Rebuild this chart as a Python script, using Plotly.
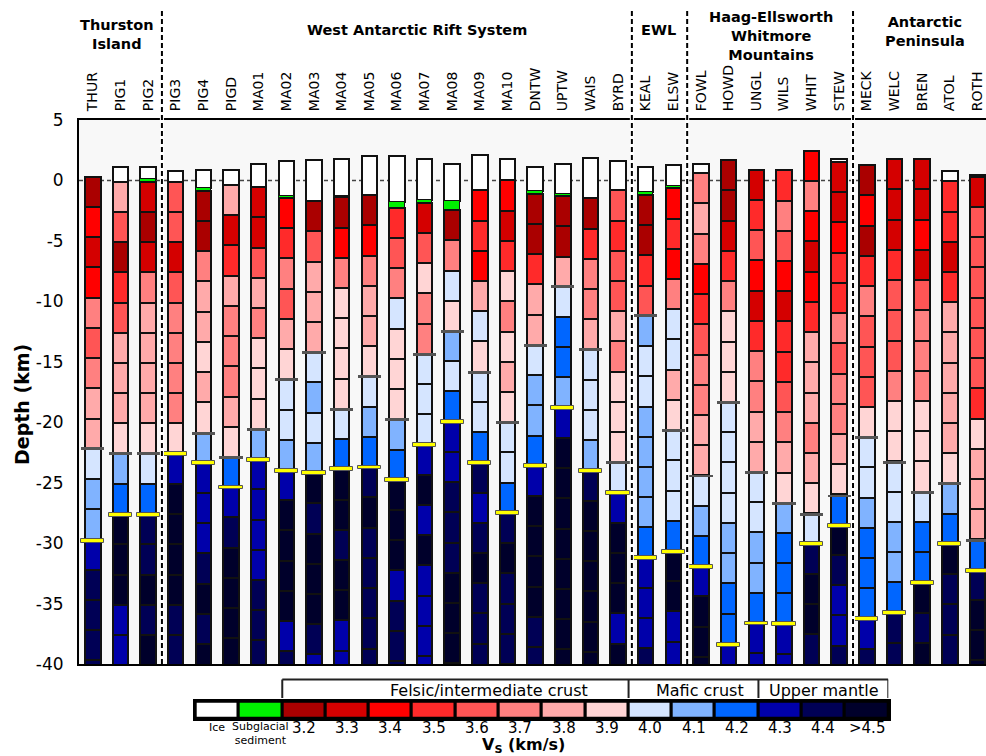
import plotly.graph_objects as go

FONT = "DejaVu Sans"

# ---- stations (left to right) -------------------------------------------
stations = ["THUR", "PIG1", "PIG2", "PIG3", "PIG4", "PIGD", "MA01", "MA02", "MA03",
            "MA04", "MA05", "MA06", "MA07", "MA08", "MA09", "MA10", "DNTW", "UPTW",
            "WAIS", "BYRD", "KEAL", "ELSW", "FOWL", "HOWD", "UNGL", "WILS", "WHIT",
            "STEW", "MECK", "WELC", "BREN", "ATOL", "ROTH"]

# surface elevation, base of ice and top of the crustal column (km)
surface_km = [0.3, 1.13, 1.13, 0.77, 0.88, 0.88, 1.4, 1.57, 1.71, 1.77, 1.99, 2.02, 1.74,
              1.4, 2.13, 1.8, 1.13, 1.4, 1.85, 1.6, 1.1, 1.3, 1.38, 1.67, 0.88, 0.84,
              2.45, 1.74, 1.26, 1.76, 1.76, 0.8, 0.41]
ice_base_km = [0.3, -0.1, 0.1, -0.1, -0.6, -0.38, -0.55, -1.3, -1.71, -1.25, -1.22, -1.77,
               -1.6, -1.66, -0.82, 0.0, -0.9, -1.1, -1.49, -0.82, -0.95, -0.5, 0.6, 1.67,
               0.88, 0.84, 2.45, 1.53, 1.26, 1.76, 1.76, -0.07, 0.3]
bed_km = [0.3, -0.1, -0.1, -0.1, -0.85, -0.38, -0.55, -1.45, -1.71, -1.4, -1.22, -2.26,
          -1.85, -2.45, -0.82, 0.0, -1.1, -1.3, -1.49, -0.82, -1.2, -0.65, 0.6, 1.67,
          0.88, 0.84, 2.45, 1.53, 1.26, 1.76, 1.76, -0.07, 0.3]

# felsic/mafic transition and Moho depth (km)
mid_crust_km = [-22.2, -22.6, -22.6, None, -20.9, -22.9, -20.6, -16.5, -14.25, -18.95,
                -16.25, -19.8, -14.4, -12.5, -15.85, -20.05, -13.65, -8.8, -14.0, -23.35,
                -11.2, -20.7, -24.45, -18.35, -24.15, -26.7, -27.6, -26.1, -21.3, -23.3,
                -25.85, -25.1, -29.8]
moho_km = [-29.8, -27.65, -27.65, -22.6, -23.4, -25.4, -23.1, -24.0, -24.2, -23.9, -23.75,
           -24.75, -21.9, -19.95, -23.35, -27.5, -23.65, -18.8, -24.0, -25.85, -31.2,
           -30.7, -31.95, -38.4, -36.65, -36.7, -30.1, -28.55, -36.3, -35.8, -33.3,
           -30.1, -32.3]

# shear-wave velocity of each 2.5 km layer below the bed (km/s, 4.5 = >4.5)
LAYER_KM = 2.5
vs_layers = [
    [3.2, 3.4, 3.3, 3.4, 3.7, 3.6, 3.7, 3.8, 3.8, 4.0, 4.1, 4.1, 4.3, 4.4, 4.4, 4.4, 4.4],  # THUR
    [3.8, 3.6, 3.2, 3.5, 3.6, 3.8, 3.8, 3.8, 3.9, 4.1, 4.2, 4.5, 4.5, 4.5, 4.3, 4.3],       # PIG1
    [3.3, 3.2, 3.3, 3.7, 3.8, 3.8, 3.8, 3.8, 3.9, 4.0, 4.2, 4.4, 4.4, 4.5, 4.4, 4.5],       # PIG2
    [3.6, 3.6, 3.3, 3.6, 3.7, 3.7, 3.7, 3.7, 3.9, 4.3, 4.5, 4.5, 4.5, 4.5, 4.4, 4.4],       # PIG3
    [3.2, 3.2, 3.7, 3.8, 3.8, 3.9, 3.8, 3.9, 4.1, 4.3, 4.3, 4.3, 4.4, 4.5, 4.4, 4.5],       # PIG4
    [3.8, 3.3, 3.5, 3.8, 3.7, 3.7, 3.7, 3.8, 3.9, 4.2, 4.3, 4.4, 4.5, 4.5, 4.5, 4.5],       # PIGD
    [3.3, 3.3, 3.6, 3.8, 3.7, 3.9, 3.9, 3.9, 4.1, 4.3, 4.3, 4.3, 4.3, 4.4, 4.4, 4.4],       # MA01
    [3.4, 3.5, 3.7, 3.6, 3.8, 3.9, 4.0, 4.0, 4.1, 4.3, 4.5, 4.5, 4.5, 4.5, 4.3, 4.4],       # MA02
    [3.2, 3.6, 3.8, 3.8, 3.8, 4.0, 4.1, 4.0, 4.1, 4.5, 4.4, 4.5, 4.5, 4.5, 4.4, 4.3],       # MA03
    [3.2, 3.4, 3.7, 3.9, 3.9, 3.9, 3.9, 4.0, 4.2, 4.5, 4.5, 4.4, 4.5, 4.5, 4.3, 4.3],       # MA04
    [3.2, 3.4, 3.7, 3.8, 3.8, 3.9, 4.0, 4.1, 4.2, 4.4, 4.5, 4.4, 4.4, 4.4, 4.4, 4.4],       # MA05
    [3.5, 3.6, 3.7, 4.0, 3.9, 3.9, 3.9, 4.1, 4.2, 4.5, 4.5, 4.5, 4.3, 4.4, 4.4, 4.4],       # MA06
    [3.3, 3.6, 3.9, 3.7, 3.7, 4.0, 4.0, 4.0, 4.3, 4.5, 4.3, 4.5, 4.3, 4.3, 4.3, 4.3],       # MA07
    [3.2, 3.7, 4.0, 3.9, 4.1, 4.0, 4.2, 4.3, 4.3, 4.4, 4.4, 4.4, 4.5, 4.5, 4.5, 4.4],       # MA08
    [3.4, 3.5, 3.4, 3.8, 4.0, 3.9, 4.0, 4.0, 4.2, 4.4, 4.3, 4.4, 4.5, 4.4, 4.4, 4.4],       # MA09
    [3.4, 3.3, 3.5, 3.9, 3.7, 3.9, 3.8, 3.9, 4.0, 4.0, 4.2, 4.4, 4.5, 4.4, 4.4, 4.4],       # MA10
    [3.2, 3.2, 3.5, 3.8, 3.8, 4.0, 4.1, 4.1, 4.2, 4.3, 4.5, 4.5, 4.5, 4.5, 4.4, 4.4],       # DNTW
    [3.2, 3.2, 3.8, 4.0, 4.2, 4.2, 4.1, 4.3, 4.5, 4.5, 4.5, 4.5, 4.5, 4.5, 4.5, 4.5],       # UPTW
    [3.2, 3.5, 3.7, 3.7, 3.8, 4.0, 4.0, 4.0, 4.1, 4.4, 4.5, 4.5, 4.5, 4.5, 4.5, 4.5],       # WAIS
    [3.6, 3.5, 3.6, 3.6, 3.8, 3.7, 3.9, 3.9, 3.9, 4.0, 4.3, 4.5, 4.5, 4.5, 4.3, 4.5],       # BYRD
    [3.2, 3.2, 3.5, 3.6, 4.1, 4.0, 4.0, 4.1, 4.1, 4.1, 4.1, 4.2, 4.3, 4.3, 4.3, 4.4],       # KEAL
    [3.4, 3.5, 3.4, 3.7, 4.0, 4.0, 3.8, 3.9, 4.0, 4.0, 4.0, 4.2, 4.5, 4.5, 4.3, 4.3],       # ELSW
    [3.7, 3.8, 3.7, 3.4, 3.5, 3.6, 3.7, 3.7, 3.8, 3.8, 4.0, 4.1, 4.2, 4.3, 4.5, 4.5, 4.5],  # FOWL
    [3.2, 3.2, 3.3, 3.5, 3.7, 3.9, 3.9, 3.9, 4.0, 4.0, 4.0, 4.0, 4.1, 4.1, 4.2, 4.2, 4.3],  # HOWD
    [3.3, 3.5, 3.6, 3.4, 3.3, 3.5, 3.7, 3.7, 3.8, 3.8, 4.0, 4.0, 4.1, 4.1, 4.2, 4.3, 4.3],  # UNGL
    [3.5, 3.7, 3.6, 3.4, 3.3, 3.5, 3.5, 3.6, 3.7, 3.8, 3.9, 4.1, 4.2, 4.2, 4.2, 4.3, 4.3],  # WILS
    [3.4, 3.7, 3.4, 3.3, 3.4, 3.5, 3.8, 3.8, 3.8, 3.7, 3.8, 3.9, 4.0, 4.4, 4.5, 4.5, 4.4],  # WHIT
    [3.3, 3.3, 3.4, 3.5, 3.5, 3.7, 3.6, 3.7, 3.7, 3.8, 3.9, 4.2, 4.5, 4.4, 4.3, 4.3, 4.4],  # STEW
    [3.2, 3.4, 3.2, 3.5, 3.7, 3.6, 3.6, 3.6, 3.9, 4.0, 4.0, 4.1, 4.2, 4.2, 4.2, 4.3, 4.4],  # MECK
    [3.3, 3.3, 3.3, 3.5, 3.6, 3.6, 3.6, 3.7, 3.9, 3.9, 4.0, 4.0, 4.1, 4.1, 4.2, 4.4, 4.4],  # WELC
    [3.3, 3.3, 3.4, 3.3, 3.6, 3.7, 3.7, 3.7, 3.9, 3.9, 3.9, 4.0, 4.2, 4.2, 4.5, 4.4, 4.5],  # BREN
    [3.5, 3.5, 3.3, 3.5, 3.8, 3.8, 3.8, 3.8, 3.8, 3.9, 4.1, 4.2, 4.5, 4.4, 4.4, 4.4],       # ATOL
    [3.3, 3.6, 3.6, 3.6, 3.6, 3.6, 3.6, 3.5, 3.9, 3.8, 3.8, 3.8, 4.2, 4.4, 4.5, 4.5, 4.5],  # ROTH
]

# velocity classes and colours
vs_classes = [3.2, 3.3, 3.4, 3.5, 3.6, 3.7, 3.8, 3.9, 4.0, 4.1, 4.2, 4.3, 4.4, 4.5]
vs_colors = ["#aa0000", "#d40000", "#ff0000", "#ff2a2a", "#ff5555", "#ff8080", "#ffaaaa",
             "#ffd5d5", "#d5e5ff", "#80b3ff", "#0066ff", "#0000aa", "#000055", "#00002b"]
ICE_COLOR = "#ffffff"
SED_COLOR = "#00f000"

# colour key
key_ids = ["ice", "sed"] + [f"vs{v:.1f}" for v in vs_classes]
key_labels = ["Ice", "Subglacial<br>sediment"] + [f"{v:.1f}" for v in vs_classes[:-1]] + [">4.5"]
key_colors = [ICE_COLOR, SED_COLOR] + vs_colors

# tectonic provinces: label, x-position (station index units), y (paper)
group_labels = ["Thurston<br>Island", "West Antarctic Rift System", "EWL",
                "Haag-Ellsworth<br>Whitmore<br>Mountains", "Antarctic<br>Peninsula"]
group_label_x = [0.86, 11.73, 20.47, 24.55, 30.09]
group_label_y = [1.135, 1.141, 1.141, 1.132, 1.139]
group_breaks = [2.5, 19.5, 21.5, 27.5]

# ---- figure -----------------------------------------------------------------
W, H = 986, 756
M_L, M_T = 79, 120
PLOT_BOTTOM_PX = 664
main_bottom = (H - PLOT_BOTTOM_PX) / (H - M_T)


def py(px):
    """pixel row -> paper y (bottom margin is zero)"""
    return (H - px) / (H - M_T)


fig = go.Figure()

BAR_W = 0.56
EDGE = dict(color="#111111", width=2)

for v, col in zip(vs_classes, vs_colors):
    xs, bases, ys = [], [], []
    for st, top, layers in zip(stations, bed_km, vs_layers):
        for i, val in enumerate(layers):
            if abs(val - v) < 1e-6:
                xs.append(st)
                bases.append(top - i * LAYER_KM)
                ys.append(-LAYER_KM)
    fig.add_trace(go.Bar(x=xs, y=ys, base=bases, width=BAR_W,
                         marker=dict(color=col, line=EDGE),
                         showlegend=False, hoverinfo="skip"))

# ice
ix = [s for s, a, b in zip(stations, surface_km, ice_base_km) if a - b > 1e-6]
ib = [b for a, b in zip(surface_km, ice_base_km) if a - b > 1e-6]
iy = [a - b for a, b in zip(surface_km, ice_base_km) if a - b > 1e-6]
fig.add_trace(go.Bar(x=ix, y=iy, base=ib, width=BAR_W,
                     marker=dict(color=ICE_COLOR, line=EDGE),
                     showlegend=False, hoverinfo="skip"))

# subglacial sediment
sx = [s for s, a, b in zip(stations, ice_base_km, bed_km) if a - b > 1e-6]
sb = [b for a, b in zip(ice_base_km, bed_km) if a - b > 1e-6]
sy = [a - b for a, b in zip(ice_base_km, bed_km) if a - b > 1e-6]
fig.add_trace(go.Bar(x=sx, y=sy, base=sb, width=BAR_W,
                     marker=dict(color=SED_COLOR, line=dict(color="#111111", width=1)),
                     showlegend=False, hoverinfo="skip"))

# felsic/mafic transition ticks
MARK_W = 0.84
mx = [s for s, d in zip(stations, mid_crust_km) if d is not None]
md = [d for d in mid_crust_km if d is not None]
fig.add_trace(go.Bar(x=mx, y=[0.24] * len(md), base=[d - 0.12 for d in md], width=MARK_W,
                     marker=dict(color="#555555", line=dict(width=0)),
                     showlegend=False, hoverinfo="skip"))

# Moho ticks
fig.add_trace(go.Bar(x=stations, y=[0.32] * len(moho_km), base=[d - 0.16 for d in moho_km],
                     width=MARK_W,
                     marker=dict(color="#ffff00", line=dict(color="#555555", width=1)),
                     showlegend=False, hoverinfo="skip"))

# colour key strip
fig.add_trace(go.Bar(x=key_ids, y=[1] * len(key_ids), base=[0] * len(key_ids), width=1,
                     marker=dict(color=key_colors, line=dict(color="#000000", width=3)),
                     xaxis="x2", yaxis="y2", showlegend=False, hoverinfo="skip"))

# ---- shapes -----------------------------------------------------------------
shapes = [dict(type="line", xref="paper", x0=0, x1=1, yref="y", y0=0, y1=0,
               line=dict(color="#444444", width=1.5, dash="4px,3px"), layer="below")]
for b in group_breaks:
    shapes.append(dict(type="line", xref="x", x0=b, x1=b, yref="paper",
                       y0=main_bottom, y1=py(8), line=dict(color="white", width=4)))
    shapes.append(dict(type="line", xref="x", x0=b, x1=b, yref="paper",
                       y0=main_bottom, y1=py(8),
                       line=dict(color="black", width=2, dash="5px,3px")))

br_top, br_low = py(679.5), py(698)
bracket_line = dict(color="#222222", width=2)
shapes.append(dict(type="line", xref="x2", x0=1.5, x1=15.5, yref="paper",
                   y0=br_top, y1=br_top, line=bracket_line))
for bx in (1.5, 9.5, 12.5, 15.5):
    shapes.append(dict(type="line", xref="x2", x0=bx, x1=bx, yref="paper",
                       y0=br_low, y1=br_top, line=bracket_line))

# ---- annotations ------------------------------------------------------------
ann = []


def label(text, x, y, size, xref="paper", **kw):
    d = dict(text=text, xref=xref, x=x, yref="paper", y=y, showarrow=False,
             font=dict(family=FONT, size=size, color="black"),
             xanchor="center", yanchor="middle")
    d.update(kw)
    ann.append(d)


for txt, gx, gy in zip(group_labels, group_label_x, group_label_y):
    label(f"<b>{txt}</b>", gx, gy, 14.5, xref="x")

label("<b>Depth (km)</b>", (22 - M_L) / (W - M_L), py(405), 19, textangle=-90)

for i, lab in enumerate(key_labels):
    if i == 0:
        label(lab, i, py(727), 11, xref="x2")
    elif i == 1:
        label(lab, i, py(733), 11, xref="x2")
    else:
        label(lab, i, py(728), 15, xref="x2")

for txt, bx in (("Felsic/intermediate crust", 6.27), ("Mafic crust", 11.15),
                ("Upper mantle", 14.01)):
    label(txt, bx, py(690), 16, xref="x2")

label("<b>V<sub>S</sub> (km/s)</b>", (523 - M_L) / (W - M_L), py(745), 16)

# ---- layout -----------------------------------------------------------------
depth_ticks = list(range(-40, 6, 5))
fig.update_layout(
    template="none",
    width=W, height=H,
    margin=dict(l=M_L, r=0, t=M_T, b=0, pad=0),
    paper_bgcolor="white", plot_bgcolor="#f8f8f8",
    barmode="overlay", bargap=0,
    font=dict(family=FONT, color="black"),
    shapes=shapes, annotations=ann,
    xaxis=dict(type="category", categoryorder="array", categoryarray=stations,
               range=[-0.5, 32.31], side="top", tickangle=-90,
               tickfont=dict(family=FONT, size=14, color="black"),
               showline=True, linecolor="black", linewidth=2, mirror=True,
               ticks="", showgrid=False, zeroline=False, automargin=False,
               ticklabelstandoff=4, anchor="y", domain=[0, 1]),
    yaxis=dict(range=[-40, 5], domain=[main_bottom, 1], tickvals=depth_ticks,
               ticktext=[str(t) for t in depth_ticks],
               tickfont=dict(family=FONT, size=17, color="black"),
               showline=True, linecolor="black", linewidth=2, mirror=False,
               ticks="", showgrid=False, zeroline=False, automargin=False,
               ticklabelstandoff=10, anchor="x"),
    xaxis2=dict(type="category", categoryorder="array", categoryarray=key_ids,
                range=[-0.5, 15.5], domain=[(195.7 - M_L) / (W - M_L), (888.3 - M_L) / (W - M_L)],
                anchor="y2", showticklabels=False, ticks="", showgrid=False, zeroline=False,
                showline=True, linecolor="black", linewidth=3, mirror=True, automargin=False),
    yaxis2=dict(range=[0, 1], domain=[py(718.3), py(701.7)], anchor="x2",
                showticklabels=False, ticks="", showgrid=False, zeroline=False,
                showline=True, linecolor="black", linewidth=3, mirror=True, automargin=False),
)

fig.write_html("out.html")
